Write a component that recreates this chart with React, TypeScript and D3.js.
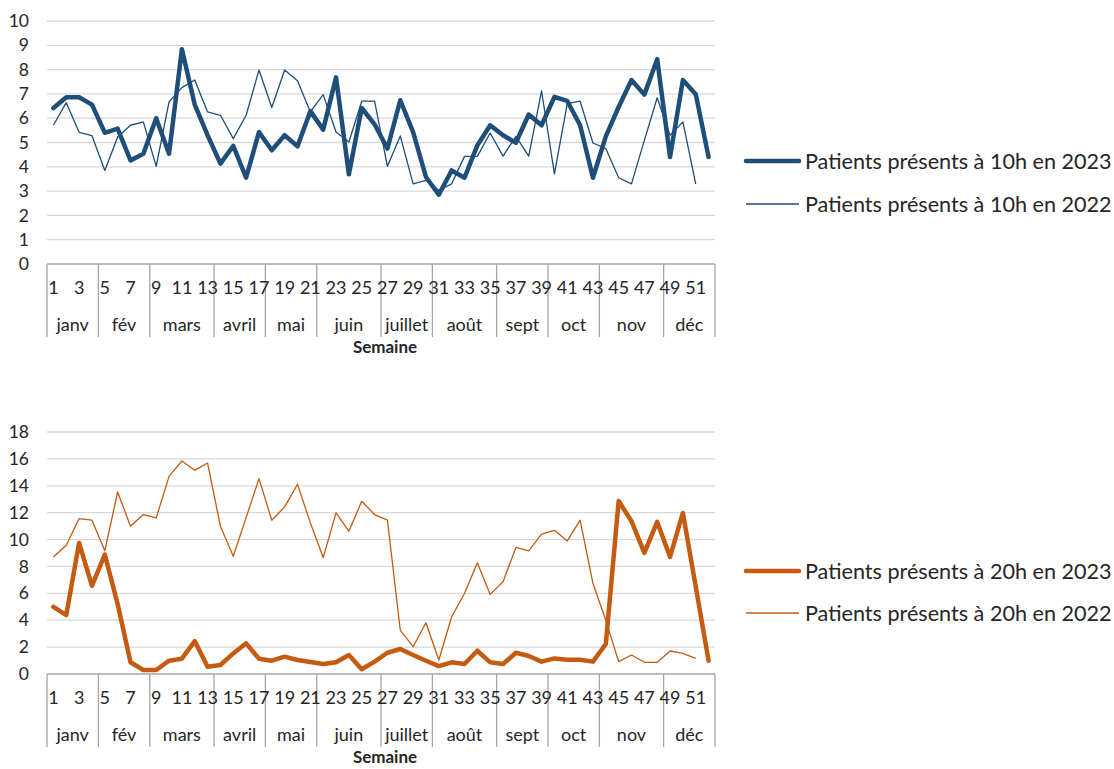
import React, { useEffect, useRef } from "react";
import * as d3 from "d3";

// weeks 1..52, grouped by month on the category axis
const weeks = d3.range(1, 53);
const monthNames = ["janv", "fév", "mars", "avril", "mai", "juin", "juillet", "août", "sept", "oct", "nov", "déc"];
const monthWeekCounts = [4, 4, 5, 4, 4, 5, 4, 5, 4, 4, 5, 4];

const patients10h2023 = [
  6.42, 6.86, 6.86, 6.56, 5.4, 5.57, 4.26, 4.54, 6.0, 4.54,
  8.84, 6.56, 5.3, 4.13, 4.86, 3.55, 5.43, 4.68, 5.3, 4.84,
  6.29, 5.53, 7.68, 3.69, 6.42, 5.75, 4.75, 6.74, 5.43, 3.58,
  2.85, 3.85, 3.55, 4.88, 5.71, 5.3, 4.99, 6.15, 5.71, 6.88,
  6.71, 5.71, 3.55, 5.25, 6.46, 7.57, 6.97, 8.43, 4.4, 7.57,
  6.99, 4.4,
];
const patients10h2022 = [
  5.71, 6.64, 5.42, 5.28, 3.85, 5.23, 5.71, 5.85, 4.02, 6.67,
  7.26, 7.57, 6.26, 6.12, 5.16, 6.12, 7.98, 6.44, 7.98, 7.54,
  6.26, 6.97, 5.43, 5.02, 6.7, 6.7, 4.02, 5.27, 3.3, 3.44,
  3.03, 3.3, 4.43, 4.43, 5.39, 4.44, 5.25, 4.44, 7.12, 3.71,
  6.6, 6.7, 4.98, 4.75, 3.55, 3.3, 5.09, 6.84, 5.3, 5.85,
  3.3,
];
const patients20h2023 = [
  5.0, 4.38, 9.75, 6.56, 8.89, 5.2, 0.87, 0.3, 0.3, 0.99,
  1.14, 2.45, 0.54, 0.67, 1.53, 2.28, 1.14, 0.99, 1.29, 1.04,
  0.89, 0.74, 0.87, 1.41, 0.35, 0.92, 1.58, 1.86, 1.41, 0.99,
  0.59, 0.87, 0.74, 1.73, 0.87, 0.74, 1.58, 1.34, 0.92, 1.16,
  1.06, 1.06, 0.92, 2.23, 12.87, 11.36, 9.01, 11.31, 8.71, 11.98,
  6.5, 0.99,
];
const patients20h2022 = [
  8.71, 9.58, 11.56, 11.44, 9.16, 13.54, 10.99, 11.86, 11.61, 14.7,
  15.84, 15.15, 15.69, 10.99, 8.76, 11.63, 14.53, 11.44, 12.43, 14.11,
  11.24, 8.66, 11.98, 10.62, 12.85, 11.86, 11.44, 3.27, 2.03, 3.81,
  1.04, 4.26, 5.99, 8.27, 5.92, 6.86, 9.41, 9.16, 10.4, 10.69,
  9.9, 11.44, 6.73, 4.0, 0.92, 1.41, 0.87, 0.87, 1.71, 1.53,
  1.16,
];

const BLUE = "#1F4E79";
const ORANGE = "#C55A11";
const FONT = "Lato, 'Open Sans', sans-serif";
const TEXT = "#262626";

export default function App() {
  const ref = useRef<SVGSVGElement>(null);

  useEffect(() => {
    draw();
  }, []);

  let drawPanel = (svg: any, o: any) => {
    let x = d3.scaleBand<number>().domain(weeks).range([47, 715]).padding(0);
    let y = d3.scaleLinear().domain([0, o.yMax]).range([o.bottom, o.top]);
    let bw = x.bandwidth();
    let g = svg.append("g");

    // gridlines
    g.selectAll(".grid")
      .data(y.ticks(o.yMax / o.step).filter((t: number) => t > 0))
      .enter()
      .append("line")
      .attr("x1", 47)
      .attr("x2", 715)
      .attr("y1", (d: number) => y(d))
      .attr("y2", (d: number) => y(d))
      .attr("stroke", "#d9d9d9")
      .attr("stroke-width", 1.3);

    g.selectAll(".ylab")
      .data(y.ticks(o.yMax / o.step))
      .enter()
      .append("text")
      .attr("x", 29)
      .attr("y", (d: number) => y(d))
      .attr("dy", "0.35em")
      .attr("text-anchor", "end")
      .attr("font-family", FONT)
      .attr("font-size", 17.5)
      .attr("fill", TEXT)
      .text((d: number) => d);

    // category axis
    g.append("line")
      .attr("x1", 47)
      .attr("x2", 715)
      .attr("y1", o.bottom)
      .attr("y2", o.bottom)
      .attr("stroke", "#a6a6a6")
      .attr("stroke-width", 1.3);

    let starts: number[] = [];
    let s = 1;
    monthWeekCounts.forEach((c) => {
      starts.push(s);
      s += c;
    });
    let bounds = starts.map((w) => x(w) as number).concat([715]);

    g.selectAll(".mline")
      .data(bounds)
      .enter()
      .append("line")
      .attr("x1", (d: number) => d)
      .attr("x2", (d: number) => d)
      .attr("y1", o.bottom)
      .attr("y2", o.bottom + 73)
      .attr("stroke", "#a6a6a6")
      .attr("stroke-width", 1.3);

    g.selectAll(".wlab")
      .data(weeks.filter((w) => w % 2 === 1))
      .enter()
      .append("text")
      .attr("x", (d: number) => (x(d) as number) + bw / 2)
      .attr("y", o.bottom + 24)
      .attr("dy", "0.35em")
      .attr("text-anchor", "middle")
      .attr("font-family", FONT)
      .attr("font-size", 18)
      .attr("fill", TEXT)
      .text((d: number) => d);

    g.selectAll(".mlab")
      .data(monthNames)
      .enter()
      .append("text")
      .attr("x", (d: string, i: number) => (bounds[i] + bounds[i + 1]) / 2)
      .attr("y", o.bottom + 61)
      .attr("dy", "0.35em")
      .attr("text-anchor", "middle")
      .attr("font-family", FONT)
      .attr("font-size", 18)
      .attr("fill", TEXT)
      .text((d: string) => d);

    g.append("text")
      .attr("x", 385)
      .attr("y", o.bottom + 83)
      .attr("dy", "0.35em")
      .attr("text-anchor", "middle")
      .attr("font-family", FONT)
      .attr("font-size", 17)
      .attr("font-weight", "bold")
      .attr("fill", TEXT)
      .text("Semaine");

    let line = d3
      .line<number>()
      .x((d, i) => (x(weeks[i]) as number) + bw / 2)
      .y((d) => y(d));

    g.append("path")
      .attr("d", line(o.thick))
      .attr("fill", "none")
      .attr("stroke", o.color)
      .attr("stroke-width", 4.5)
      .attr("stroke-linejoin", "round")
      .attr("stroke-linecap", "round");

    g.append("path")
      .attr("d", line(o.thin))
      .attr("fill", "none")
      .attr("stroke", o.color)
      .attr("stroke-width", 1.3)
      .attr("stroke-linejoin", "round");

    // legend
    let legend = [
      { label: o.label2023, w: 4.5, y: o.legendY[0] },
      { label: o.label2022, w: 1.3, y: o.legendY[1] },
    ];
    legend.forEach((l) => {
      g.append("line")
        .attr("x1", 746)
        .attr("x2", 799)
        .attr("y1", l.y)
        .attr("y2", l.y)
        .attr("stroke", o.color)
        .attr("stroke-width", l.w)
        .attr("stroke-linecap", l.w > 2 ? "round" : "butt");
      g.append("text")
        .attr("x", 805)
        .attr("y", l.y)
        .attr("dy", "0.35em")
        .attr("font-family", FONT)
        .attr("font-size", 21.6)
        .attr("fill", TEXT)
        .text(l.label);
    });
  };

  let draw = () => {
    let svg = d3.select(ref.current);
    svg.selectAll("*").remove();

    drawPanel(svg, {
      top: 21,
      bottom: 264,
      yMax: 10,
      step: 1,
      thick: patients10h2023,
      thin: patients10h2022,
      color: BLUE,
      label2023: "Patients présents à 10h en 2023",
      label2022: "Patients présents à 10h en 2022",
      legendY: [161, 204],
    });

    drawPanel(svg, {
      top: 432,
      bottom: 674,
      yMax: 18,
      step: 2,
      thick: patients20h2023,
      thin: patients20h2022,
      color: ORANGE,
      label2023: "Patients présents à 20h en 2023",
      label2022: "Patients présents à 20h en 2022",
      legendY: [571, 613],
    });
  };

  return (
    <svg
      ref={ref}
      width={1114}
      height={769}
      style={{ position: "absolute", left: 0, top: 0, background: "#fff" }}
    />
  );
}
